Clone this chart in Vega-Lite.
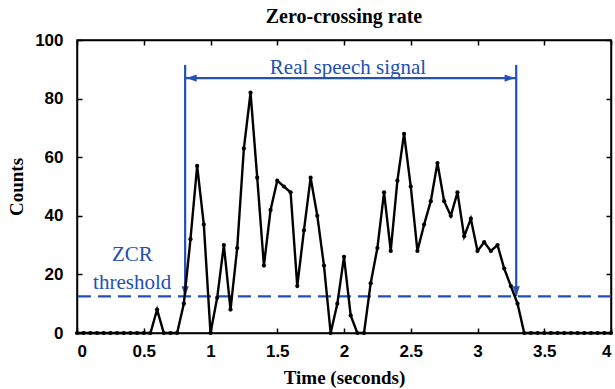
{
  "$schema": "https://vega.github.io/schema/vega-lite/v6.json",
  "width": 534,
  "height": 293,
  "autosize": {"type": "none"},
  "padding": {"left": 77, "top": 40, "right": 4, "bottom": 56},
  "background": "white",
  "title": {"text": "Zero-crossing rate", "font": "Liberation Serif", "fontSize": 20, "fontWeight": "bold", "color": "black", "anchor": "middle", "offset": 4},
  "datasets": {
    "zcr": [
      {"t": 0.0, "v": 0}, {"t": 0.05, "v": 0}, {"t": 0.1, "v": 0}, {"t": 0.15, "v": 0}, {"t": 0.2, "v": 0}, {"t": 0.25, "v": 0},
      {"t": 0.3, "v": 0}, {"t": 0.35, "v": 0}, {"t": 0.4, "v": 0}, {"t": 0.45, "v": 0}, {"t": 0.5, "v": 0}, {"t": 0.55, "v": 0},
      {"t": 0.6, "v": 8}, {"t": 0.65, "v": 0}, {"t": 0.7, "v": 0}, {"t": 0.75, "v": 0}, {"t": 0.8, "v": 10}, {"t": 0.85, "v": 32},
      {"t": 0.9, "v": 57}, {"t": 0.95, "v": 37}, {"t": 1.0, "v": 0}, {"t": 1.05, "v": 12}, {"t": 1.1, "v": 30}, {"t": 1.15, "v": 8},
      {"t": 1.2, "v": 29}, {"t": 1.25, "v": 63}, {"t": 1.3, "v": 82}, {"t": 1.35, "v": 53}, {"t": 1.4, "v": 23}, {"t": 1.45, "v": 42},
      {"t": 1.5, "v": 52}, {"t": 1.55, "v": 50}, {"t": 1.6, "v": 48}, {"t": 1.65, "v": 16}, {"t": 1.7, "v": 35}, {"t": 1.75, "v": 53},
      {"t": 1.8, "v": 40}, {"t": 1.85, "v": 23}, {"t": 1.9, "v": 0}, {"t": 1.95, "v": 10}, {"t": 2.0, "v": 26}, {"t": 2.05, "v": 6},
      {"t": 2.1, "v": 0}, {"t": 2.15, "v": 0}, {"t": 2.2, "v": 17}, {"t": 2.25, "v": 29}, {"t": 2.3, "v": 48}, {"t": 2.35, "v": 28},
      {"t": 2.4, "v": 52}, {"t": 2.45, "v": 68}, {"t": 2.5, "v": 50}, {"t": 2.55, "v": 28}, {"t": 2.6, "v": 37}, {"t": 2.65, "v": 45},
      {"t": 2.7, "v": 58}, {"t": 2.75, "v": 45}, {"t": 2.8, "v": 40}, {"t": 2.85, "v": 48}, {"t": 2.9, "v": 33}, {"t": 2.95, "v": 39},
      {"t": 3.0, "v": 28}, {"t": 3.05, "v": 31}, {"t": 3.1, "v": 28}, {"t": 3.15, "v": 30}, {"t": 3.2, "v": 22}, {"t": 3.25, "v": 16},
      {"t": 3.3, "v": 10}, {"t": 3.35, "v": 0}, {"t": 3.4, "v": 0}, {"t": 3.45, "v": 0}, {"t": 3.5, "v": 0}, {"t": 3.55, "v": 0},
      {"t": 3.6, "v": 0}, {"t": 3.65, "v": 0}, {"t": 3.7, "v": 0}, {"t": 3.75, "v": 0}, {"t": 3.8, "v": 0}, {"t": 3.85, "v": 0},
      {"t": 3.9, "v": 0}, {"t": 3.95, "v": 0}, {"t": 4.0, "v": 0}
    ],
    "threshold": [{"v": 12.5}],
    "bounds": [{"t": 0.81, "v0": 12.5, "v1": 91.5}, {"t": 3.29, "v0": 12.5, "v1": 91.5}],
    "span": [{"t0": 0.81, "t1": 3.29, "v": 87}],
    "heads": [
      {"t": 0.81, "v": 12.5, "dir": "down"},
      {"t": 3.29, "v": 12.5, "dir": "down"},
      {"t": 0.82, "v": 87, "dir": "left"},
      {"t": 3.28, "v": 87, "dir": "right"}
    ],
    "labels": [
      {"t": 2.03, "v": 90.5, "text": "Real speech signal"},
      {"t": 0.415, "v": 26.6, "text": "ZCR"},
      {"t": 0.413, "v": 17.2, "text": "threshold"}
    ]
  },
  "resolve": {"axis": {"x": "independent", "y": "independent"}},
  "layer": [
    {
      "data": {"name": "zcr"},
      "mark": {"type": "point", "opacity": 0},
      "encoding": {
        "x": {"field": "t", "type": "quantitative", "scale": {"domain": [0, 4]}, "axis": {"orient": "top", "labels": false, "title": null, "values": [0, 0.5, 1, 1.5, 2, 2.5, 3, 3.5, 4]}},
        "y": {"field": "v", "type": "quantitative", "scale": {"domain": [0, 100]}, "axis": {"orient": "right", "labels": false, "title": null, "values": [0, 20, 40, 60, 80, 100]}}
      }
    },
    {
      "data": {"name": "threshold"},
      "mark": {"type": "rule", "color": "#2350b4", "strokeWidth": 2.2, "strokeDash": [13, 7]},
      "encoding": {"y": {"field": "v", "type": "quantitative", "axis": null}}
    },
    {
      "data": {"name": "bounds"},
      "mark": {"type": "rule", "color": "#2350b4", "strokeWidth": 2.2},
      "encoding": {
        "x": {"field": "t", "type": "quantitative", "axis": null},
        "y": {"field": "v0", "type": "quantitative", "axis": null},
        "y2": {"field": "v1"}
      }
    },
    {
      "data": {"name": "span"},
      "mark": {"type": "rule", "color": "#2350b4", "strokeWidth": 2.2},
      "encoding": {
        "x": {"field": "t0", "type": "quantitative", "axis": null},
        "x2": {"field": "t1"},
        "y": {"field": "v", "type": "quantitative", "axis": null}
      }
    },
    {
      "data": {"name": "heads"},
      "mark": {"type": "point", "filled": true, "color": "#2350b4", "opacity": 1, "size": 420},
      "encoding": {
        "x": {"field": "t", "type": "quantitative", "axis": null},
        "y": {"field": "v", "type": "quantitative", "axis": null},
        "shape": {"field": "dir", "type": "nominal", "legend": null, "scale": {"domain": ["down", "left", "right"], "range": ["M0,0L-0.35,-1L0.35,-1Z", "M0,0L1,-0.35L1,0.35Z", "M0,0L-1,-0.35L-1,0.35Z"]}}
      }
    },
    {
      "data": {"name": "zcr"},
      "mark": {"type": "line", "color": "black", "strokeWidth": 2.4, "point": {"filled": true, "color": "black", "size": 18, "opacity": 1}},
      "encoding": {
        "x": {"field": "t", "type": "quantitative", "axis": {"orient": "bottom", "title": "Time (seconds)", "format": "~g", "values": [0, 0.5, 1, 1.5, 2, 2.5, 3, 3.5, 4]}},
        "y": {"field": "v", "type": "quantitative", "axis": {"orient": "left", "title": "Counts", "values": [0, 20, 40, 60, 80, 100]}}
      }
    },
    {
      "data": {"name": "labels"},
      "mark": {"type": "text", "font": "Liberation Serif", "fontSize": 21, "color": "#2350b4", "align": "center", "baseline": "middle"},
      "encoding": {
        "x": {"field": "t", "type": "quantitative", "axis": null},
        "y": {"field": "v", "type": "quantitative", "axis": null},
        "text": {"field": "text"}
      }
    }
  ],
  "config": {
    "view": {"stroke": "black", "strokeWidth": 1.5},
    "axis": {
      "grid": false,
      "domainColor": "black",
      "domainWidth": 1.5,
      "tickColor": "black",
      "tickWidth": 1.5,
      "tickSize": -5,
      "labelFont": "Liberation Sans",
      "labelFontWeight": "bold",
      "labelFontSize": 17,
      "labelColor": "black",
      "titleFont": "Liberation Serif",
      "titleFontWeight": "bold",
      "titleFontSize": 19,
      "titleColor": "black"
    },
    "axisX": {"titlePadding": 9, "labelPadding": 15},
    "axisY": {"titlePadding": 8, "labelPadding": 19}
  }
}
